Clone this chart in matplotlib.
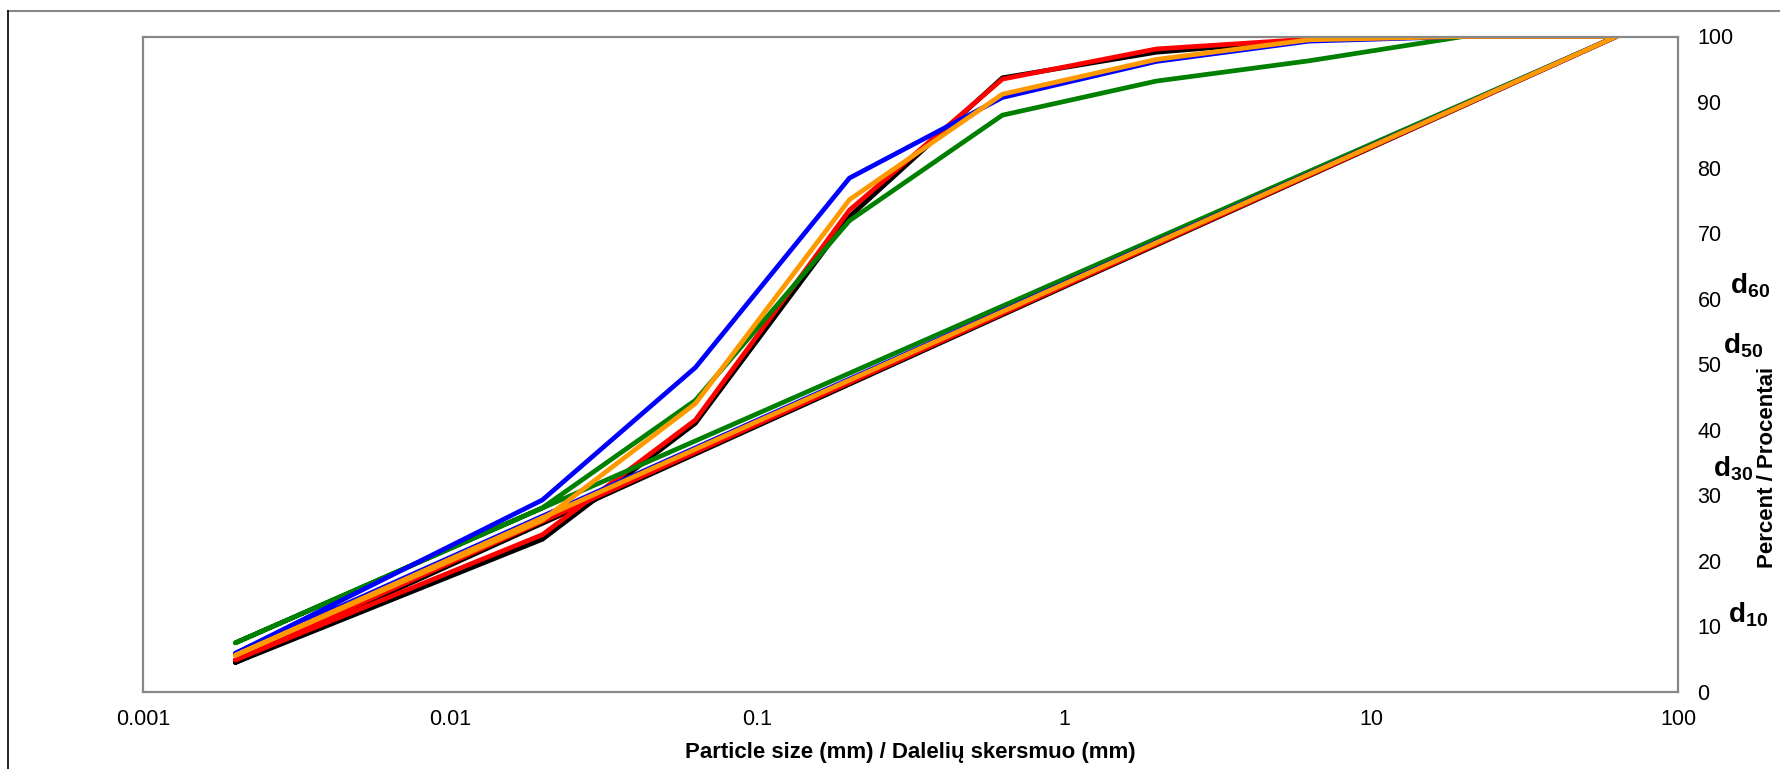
import matplotlib.pyplot as plt
from matplotlib.lines import Line2D
import numpy as np

plt.rcParams["font.family"] = ["Liberation Sans", "DejaVu Sans"]
plt.rcParams["mathtext.fontset"] = "custom"
plt.rcParams["mathtext.bf"] = "Liberation Sans:bold"
plt.rcParams["mathtext.rm"] = "Liberation Sans"

# sieve sizes (mm) and cumulative percent passing for each sample
sizes = [0.002, 0.02, 0.063, 0.2, 0.63, 2, 6.3, 20, 63]
black = [4.5, 23.3, 41.0, 72.5, 93.7, 97.6, 99.5, 100, 100]
red = [4.9, 24.0, 41.5, 73.5, 93.5, 98.1, 99.6, 100, 100]
green = [7.5, 28.1, 44.5, 71.9, 88.0, 93.2, 96.3, 100, 100]
blue = [5.9, 29.3, 49.5, 78.4, 90.7, 96.2, 99.3, 100, 100]
orange = [5.6, 26.2, 44.0, 75.1, 91.2, 96.5, 99.5, 100, 100]

series = [
    (black, "black"),
    (red, "#ff0000"),
    (green, "#008000"),
    (blue, "#0000ff"),
    (orange, "#ff9900"),
]

d_labels = ["d$_{\\mathbf{60}}$", "d$_{\\mathbf{50}}$", "d$_{\\mathbf{30}}$", "d$_{\\mathbf{10}}$"]
d_pos = [(1730, 293), (1723, 353), (1713, 476), (1728, 622)]

W, H = 1781, 769
fig = plt.figure(figsize=(W / 100, H / 100), dpi=100)
ax = fig.add_axes([143 / W, 1 - 692 / H, (1678 - 143) / W, (692 - 36.5) / H])

x = np.array(sizes)
for vals, col in series:
    y = np.array(vals)
    # the series closes back to its first point
    ax.plot(np.append(x, x[0]), np.append(y, y[0]), color=col, lw=3.4,
            solid_joinstyle="round", solid_capstyle="round")

ax.set_xscale("log")
ax.set_xlim(0.001, 100)
ax.set_ylim(0, 100)
ax.set_xticks([0.001, 0.01, 0.1, 1, 10, 100])
ax.set_xticklabels(["0.001", "0.01", "0.1", "1", "10", "100"])
ax.xaxis.set_minor_locator(plt.NullLocator())
ax.set_yticks(range(0, 101, 10))
ax.yaxis.tick_right()
ax.tick_params(axis="both", length=0, labelsize=15.5)
ax.tick_params(axis="x", pad=12)
ax.tick_params(axis="y", pad=14)
for s in ax.spines.values():
    s.set_color("#888888")
    s.set_linewidth(1.6)

ax.set_xlabel("Particle size (mm) / Dalelių skersmuo (mm)", fontsize=16,
              fontweight="bold", labelpad=9)
fig.text(1768 / W, 1 - 568 / H, "Percent / Procentai", rotation=90, fontsize=16,
         fontweight="bold", ha="center", va="bottom")

for lab, (px, py) in zip(d_labels, d_pos):
    fig.text(px / W, 1 - py / H, lab, fontsize=20, fontweight="bold",
             ha="left", va="baseline")

# outer frame edges
fig.add_artist(Line2D([8 / W, 1], [1 - 11 / H, 1 - 11 / H], transform=fig.transFigure,
                      color="#888888", lw=1.5))
fig.add_artist(Line2D([8 / W, 8 / W], [0, 1 - 11 / H], transform=fig.transFigure,
                      color="black", lw=1.2))

fig.savefig("out.png", dpi=100)
